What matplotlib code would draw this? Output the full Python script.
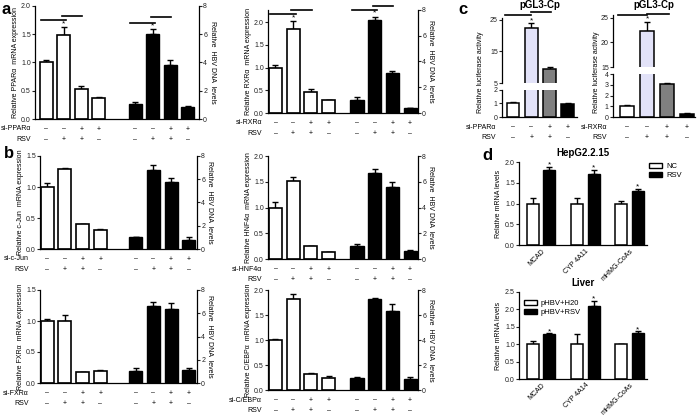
import matplotlib
matplotlib.use("Agg")
import matplotlib.pyplot as plt
from matplotlib.patches import Patch

plt.rcParams["font.family"] = ["Liberation Sans", "DejaVu Sans"]
plt.rcParams["font.size"] = 5
plt.rcParams["axes.linewidth"] = 0.9

W, H = 700, 415
PT = 0.72  # points per pixel at dpi 100

# ─────────────────────────────────────────────
#  Data
# ─────────────────────────────────────────────

SI_SIGNS = ["–", "–", "+", "+"]
RSV_SIGNS = ["–", "+", "+", "–"]

# panel a (left axis: mRNA, right axis: HBV DNA)
PPARA_MRNA = [1.0, 1.48, 0.53, 0.37]
PPARA_MRNA_ERR = [0.05, 0.14, 0.05, 0.02]
PPARA_HBV = [1.05, 6.0, 3.8, 0.88]
PPARA_HBV_ERR = [0.17, 0.4, 0.4, 0.02]

RXRA_MRNA = [1.0, 1.86, 0.46, 0.28]
RXRA_MRNA_ERR = [0.05, 0.17, 0.06, 0.01]
RXRA_HBV = [1.0, 7.2, 3.1, 0.4]
RXRA_HBV_ERR = [0.25, 0.25, 0.2, 0.02]

# panel b
CJUN_MRNA = [1.0, 1.29, 0.40, 0.31]
CJUN_MRNA_ERR = [0.06, 0.01, 0.01, 0.01]
CJUN_HBV = [1.0, 6.8, 5.75, 0.8]
CJUN_HBV_ERR = [0.03, 0.4, 0.4, 0.25]

HNF4A_MRNA = [1.0, 1.52, 0.25, 0.14]
HNF4A_MRNA_ERR = [0.1, 0.07, 0.01, 0.0]
HNF4A_HBV = [1.0, 6.65, 5.6, 0.65]
HNF4A_HBV_ERR = [0.16, 0.35, 0.4, 0.05]

FXRA_MRNA = [1.0, 1.0, 0.17, 0.19]
FXRA_MRNA_ERR = [0.03, 0.1, 0.01, 0.02]
FXRA_HBV = [1.0, 6.6, 6.35, 1.1]
FXRA_HBV_ERR = [0.3, 0.35, 0.5, 0.2]

CEBPA_MRNA = [1.0, 1.83, 0.32, 0.25]
CEBPA_MRNA_ERR = [0.02, 0.1, 0.02, 0.04]
CEBPA_HBV = [1.0, 7.3, 6.3, 0.92]
CEBPA_HBV_ERR = [0.02, 0.1, 0.6, 0.12]

# panel c (luciferase)
LUC_PPARA = [1.0, 22.3, 9.4, 0.95]
LUC_PPARA_ERR = [0.08, 1.7, 0.5, 0.05]
LUC_RXRA = [1.0, 22.3, 3.05, 0.3]
LUC_RXRA_ERR = [0.07, 1.8, 0.15, 0.03]
LUC_COLORS = ["white", "#e2e2f8", "#808080", "black"]

# panel d
GENES_CELL = ["MCAD", "CYP 4A11", "mHMG-CoAs"]
CELL_NC = [1.0, 1.0, 1.0]
CELL_NC_ERR = [0.14, 0.13, 0.06]
CELL_RSV = [1.8, 1.71, 1.31]
CELL_RSV_ERR = [0.08, 0.1, 0.04]

GENES_LIVER = ["MCAD", "CYP 4A14", "mHMG-CoAs"]
LIVER_H2O = [1.0, 1.0, 1.0]
LIVER_H2O_ERR = [0.08, 0.3, 0.01]
LIVER_RSV = [1.28, 2.1, 1.32]
LIVER_RSV_ERR = [0.03, 0.14, 0.05]

fig = plt.figure(figsize=(7, 4.15), dpi=100)


def px_axes(l, t, r, b):
    return fig.add_axes([l / W, 1 - b / H, (r - l) / W, (b - t) / H])


def style(ax, right=False):
    for s in ["top", "right", "left", "bottom"]:
        ax.spines[s].set_visible(False)
    ax.spines["right" if right else "left"].set_visible(True)
    ax.tick_params(axis="y", length=2, width=0.8, pad=1, labelsize=5, colors="#222222")
    ax.set_xticks([])
    ax.patch.set_alpha(0)


def bars(ax, x, vals, errs, color, width, edge=1.0):
    ax.bar(x, vals, width=width, color=color, edgecolor="black", linewidth=edge, zorder=2)
    ax.errorbar(x, vals, yerr=[[0] * len(vals), errs], fmt="none", ecolor="black",
                elinewidth=1.0, capsize=2.2, capthick=1.0, zorder=1)


def sign_rows(ax, xs, si_label, label_gap_px=8):
    for row, (label, signs) in enumerate([(si_label, SI_SIGNS), ("RSV", RSV_SIGNS)]):
        dy = -(10 + row * 10.5) * PT
        ax.annotate(label, xy=(0, 0), xycoords="axes fraction", xytext=(-label_gap_px * PT, dy),
                    textcoords="offset points", ha="right", va="center", fontsize=5)
        for x, s in zip(xs, signs * (len(xs) // 4)):
            ax.annotate(s, xy=(x, 0), xycoords=("data", "axes fraction"), xytext=(0, dy),
                        textcoords="offset points", ha="center", va="center", fontsize=5)


def sig_marks(ax, xs, y_low, y_high, y_star):
    ax.plot([xs[0] - 0.3, xs[1] + 0.15], [y_low, y_low], color="black", lw=1.2, clip_on=False)
    ax.plot([xs[1] - 0.1, xs[2] + 0.05], [y_high, y_high], color="black", lw=1.2, clip_on=False)
    ax.text(xs[1], y_star, "*", ha="center", va="center", fontsize=6)


def dual_panel(box, mrna, mrna_err, hbv, hbv_err, ymax, yticks, gene, si_label,
               black_start, xlim, sig=None, label_gap=8):
    ax = px_axes(*box)
    xw = [0, 1, 2, 3]
    xb = [black_start + i for i in range(4)]
    bars(ax, xw, mrna, mrna_err, "white", 0.74, edge=1.2)
    ax.set_xlim(*xlim)
    ax.set_ylim(0, ymax)
    ax.set_yticks(yticks)
    ax.set_yticklabels([f"{t:.1f}" for t in yticks])
    style(ax)
    ax.spines["bottom"].set_visible(True)
    ax.set_ylabel(f"Relative {gene}  mRNA expression", fontsize=5, labelpad=1.5)

    ax2 = ax.twinx()
    bars(ax2, xb, hbv, hbv_err, "black", 0.74)
    ax2.set_ylim(0, 8)
    ax2.set_yticks([0, 2, 4, 6, 8])
    style(ax2, right=True)
    ax2.set_ylabel("Relative  HBV DNA  levels", fontsize=5, rotation=270, labelpad=6)

    sign_rows(ax, xw + xb, si_label, label_gap)
    if sig:
        sig_marks(ax, xw, *sig[0])
        sig_marks(ax2, xb, *sig[1])
    return ax


# ─────────────────────────────────────────────
#  Panel a
# ─────────────────────────────────────────────

dual_panel((35, 6, 199, 119), PPARA_MRNA, PPARA_MRNA_ERR, PPARA_HBV, PPARA_HBV_ERR,
           2.0, [0, 0.5, 1.0, 1.5, 2.0], "PPARα", "si-PPARα", 5.1, (-0.65, 8.75),
           sig=[(1.75, 1.83, 1.69), (6.8, 7.2, 6.6)], label_gap=4)
dual_panel((268, 10, 418, 113), RXRA_MRNA, RXRA_MRNA_ERR, RXRA_HBV, RXRA_HBV_ERR,
           2.27, [0, 0.5, 1.0, 1.5, 2.0], "RXRα", "si-RXRα", 4.6, (-0.42, 8.04),
           sig=[(2.18, 2.26, 2.1), (8.0, 8.3, 7.75)], label_gap=6)

# ─────────────────────────────────────────────
#  Panel b
# ─────────────────────────────────────────────

dual_panel((40, 156, 197, 249), CJUN_MRNA, CJUN_MRNA_ERR, CJUN_HBV, CJUN_HBV_ERR,
           1.5, [0, 0.5, 1.0, 1.5], "c-Jun", "si-c-Jun", 5.0, (-0.4, 8.46), label_gap=11)
dual_panel((268, 156, 418, 259), HNF4A_MRNA, HNF4A_MRNA_ERR, HNF4A_HBV, HNF4A_HBV_ERR,
           2.0, [0, 0.5, 1.0, 1.5, 2.0], "HNF4α", "si-HNF4α", 4.6, (-0.42, 8.04), label_gap=6)
dual_panel((40, 290, 197, 383), FXRA_MRNA, FXRA_MRNA_ERR, FXRA_HBV, FXRA_HBV_ERR,
           1.5, [0, 0.5, 1.0, 1.5], "FXRα", "si-FXRα", 5.0, (-0.4, 8.46), label_gap=11)
dual_panel((268, 290, 418, 390), CEBPA_MRNA, CEBPA_MRNA_ERR, CEBPA_HBV, CEBPA_HBV_ERR,
           2.0, [0, 0.5, 1.0, 1.5, 2.0], "C/EBPα", "si-C/EBPα", 4.6, (-0.42, 8.04), label_gap=6)

# ─────────────────────────────────────────────
#  Panel c (broken axes)
# ─────────────────────────────────────────────


def luc_panel(l, r, upper, lower, up_lim, up_ticks, low_lim, low_ticks, vals, errs,
              si_label, title, label_x, xlim, sig):
    x = [0, 1, 2, 3]
    top = px_axes(l, upper[0], r, upper[1])
    bot = px_axes(l, lower[0], r, lower[1])
    for ax, lim, ticks in [(top, up_lim, up_ticks), (bot, low_lim, low_ticks)]:
        ax.bar(x, vals, width=0.7, color=LUC_COLORS, edgecolor="black", linewidth=1.1, zorder=2)
        ax.set_xlim(*xlim)
        ax.set_ylim(*lim)
        ax.set_yticks(ticks)
        style(ax)
    for xi, v, e in zip(x, vals, errs):
        target = top if v > low_lim[1] else bot
        target.errorbar([xi], [v], yerr=[[0], [e]], fmt="none", ecolor="black",
                        elinewidth=1.0, capsize=2.2, capthick=1.0, zorder=1)
    bot.spines["bottom"].set_visible(True)
    sign_rows(bot, x, si_label, label_gap_px=6)
    y_low, y_high, y_star = sig
    top.plot([-0.45, 1.0], [y_low, y_low], color="black", lw=1.2, clip_on=False)
    top.plot([1.0, 2.1], [y_high, y_high], color="black", lw=1.2, clip_on=False)
    top.text(1, y_star, "*", ha="center", va="center", fontsize=6)
    fig.text((l + r) / 2 / W, 1 - 5 / H, title, fontsize=7, fontweight="bold",
             ha="center", va="center")
    fig.text(label_x / W, 1 - 72 / H, "Relative luciferase activity", rotation=90,
             ha="center", va="center", fontsize=5)


luc_panel(502, 577, (18, 83), (90, 117), (5, 25.5), [5, 15, 25], (0, 2), [0, 1, 2],
          LUC_PPARA, LUC_PPARA_ERR, "si-PPARα", "pGL3-Cp", 481, (-0.6, 3.5),
          (26.5, 27.3, 24.6))
luc_panel(613, 695, (15, 67), (74, 117), (15, 25.6), [15, 20, 25], (0, 4), [0, 1, 2, 3, 4],
          LUC_RXRA, LUC_RXRA_ERR, "si-RXRα", "pGL3-Cp", 597, (-0.7, 3.4),
          (25.5, 25.9, 24.9))

# ─────────────────────────────────────────────
#  Panel d
# ─────────────────────────────────────────────


def gene_panel(box, genes, ctrl, ctrl_err, rsv, rsv_err, ymax, yticks, title, labels,
               legend_kw):
    ax = px_axes(*box)
    g = list(range(len(genes)))
    xc = [i - 0.19 for i in g]
    xr = [i + 0.19 for i in g]
    bars(ax, xc, ctrl, ctrl_err, "white", 0.27, edge=1.1)
    bars(ax, xr, rsv, rsv_err, "black", 0.27)
    for xi, v, e in zip(xr, rsv, rsv_err):
        ax.text(xi, v + e + ymax * 0.02, "*", ha="center", va="center", fontsize=6)
    ax.set_xlim(-0.5, 2.4)
    ax.set_ylim(0, ymax)
    ax.set_yticks(yticks)
    ax.set_yticklabels([f"{t:.1f}" for t in yticks])
    style(ax)
    ax.spines["bottom"].set_visible(True)
    ax.set_xticks(g)
    ax.set_xticklabels(genes, rotation=45, ha="right", va="top", fontsize=5,
                       rotation_mode="anchor")
    ax.tick_params(axis="x", length=0, pad=2)
    ax.set_ylabel("Relative mRNA levels", fontsize=5, labelpad=2)
    ax.set_title(title, fontsize=7, fontweight="bold", pad=4)
    handles = [Patch(facecolor="white", edgecolor="black", linewidth=1.0, label=labels[0]),
               Patch(facecolor="black", edgecolor="black", label=labels[1])]
    ax.legend(handles=handles, frameon=False, fontsize=5.5, handlelength=1.7,
              handleheight=0.7, labelspacing=0.25, handletextpad=0.5,
              borderaxespad=0.2, borderpad=0.1, **legend_kw)


gene_panel((519, 162, 647, 245), GENES_CELL, CELL_NC, CELL_NC_ERR, CELL_RSV, CELL_RSV_ERR,
           2.0, [0, 0.5, 1.0, 1.5, 2.0], "HepG2.2.15", ["NC", "RSV"],
           dict(loc="upper left", bbox_to_anchor=(1.0, 1.02)))
gene_panel((519, 292, 647, 379), GENES_LIVER, LIVER_H2O, LIVER_H2O_ERR, LIVER_RSV,
           LIVER_RSV_ERR, 2.5, [0, 0.5, 1.0, 1.5, 2.0, 2.5], "Liver",
           ["pHBV+H20", "pHBV+RSV"], dict(loc="upper left", bbox_to_anchor=(0.02, 0.94)))

# panel letters
for letter, (x, y) in {"a": (2, 10), "b": (4, 153), "c": (458, 10), "d": (482, 155)}.items():
    fig.text(x / W, 1 - y / H, letter, fontsize=12, fontweight="bold", va="center")

fig.savefig("out.png", dpi=100)
